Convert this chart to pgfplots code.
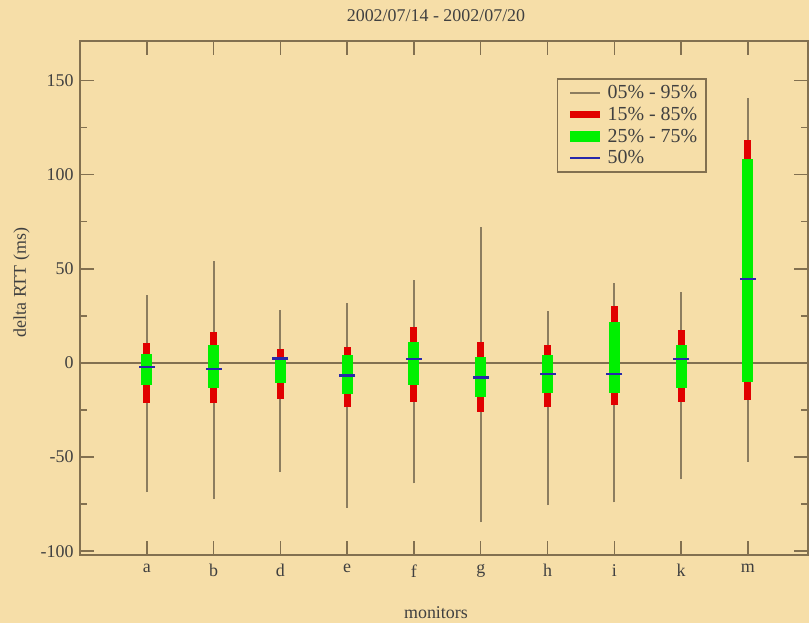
\documentclass[border=0pt]{standalone}
\usepackage{fontspec}
\setmainfont{Liberation Serif}
\usepackage{pgfplots}
\pgfplotsset{compat=1.18}
\usepackage{pgfplotstable}
\definecolor{bg}{RGB}{246,222,168}
\definecolor{axc}{RGB}{130,112,80}
\definecolor{whisk}{RGB}{140,125,95}
\definecolor{rred}{RGB}{225,0,0}
\definecolor{ggreen}{RGB}{0,240,0}
\definecolor{mblue}{RGB}{40,40,170}

\pgfplotstableread{
x  lo5   hi95  lo15  hi85  lo25  hi75  med
1  -68.6 36.0  -21.2 10.8  -11.8 5.0   -2.1
2  -72.0 54.0  -21.3 16.7  -13.3 9.6   -3.2
3  -58.0 28.0  -19.0 7.4   -10.6 3.2   2.3
4  -77.0 32.0  -23.4 8.7   -16.5 4.3   -6.7
5  -64.0 43.8  -20.6 19.3  -11.7 11.3  2.1
6  -84.6 72.0  -25.9 11.3  -17.9 3.0   -7.8
7  -75.5 27.7  -23.6 9.6   -16.1 4.3   -5.9
8  -74.0 42.4  -22.3 30.3  -15.8 22.0  -5.9
9  -61.7 37.8  -20.7 17.6  -13.3 9.6   2.0
10 -52.5 140.8 -19.7 118.6 -9.9  108.3 44.5
}\data

\begin{document}
\begin{tikzpicture}
\fill[bg] (-80bp,-68bp) rectangle (729bp,555bp);
\useasboundingbox (-80bp,-68bp) rectangle (729bp,555bp);
\begin{axis}[
  scale only axis, width=728bp, height=514bp,
  xmin=0, xmax=10.9, ymin=-102, ymax=171,
  xtick={1,...,10},
  xticklabels={a,b,d,e,f,g,h,i,k,m},
  ytick={-100,-50,0,50,100,150},
  minor y tick num=1,
  tick align=inside,
  major tick length=14bp, minor tick length=7bp,
  tick style={axc, line width=1.5bp},
  axis line style={axc, line width=2bp},
  extra y ticks={0}, extra y tick labels={},
  extra y tick style={grid=major, major grid style={axc, line width=1.5bp}, major tick length=0pt},
  /pgf/number format/assume math mode=true,
  tick label style={font=\fontsize{18}{20}\selectfont, text=black!75},
  xticklabel style={yshift=-6bp},
  yticklabel style={xshift=-3bp},
  label style={font=\fontsize{18}{20}\selectfont, text=black!75},
  title style={font=\fontsize{18}{20}\selectfont, text=black!75, at={(axis description cs:0.489,1.0272)}, anchor=base},
  title={2002/07/14 - 2002/07/20},
  xlabel={monitors},
  ylabel={delta RTT (ms)},
  xlabel style={at={(axis description cs:0.489,-0.1226)}, anchor=base},
  ylabel style={at={(axis description cs:-0.0742,0.53)}, anchor=base},
  legend image code/.code={\draw[#1] (0bp,0bp) -- (30bp,0bp);},
  legend style={at={(axis description cs:0.655,0.928)}, anchor=north west, draw=axc, line width=1.5bp, fill=bg,
     font=\fontsize{20}{22}\selectfont, text=black!75, row sep=2.8bp, inner xsep=7bp, inner ysep=5bp},
  legend cell align=left,
]
\addlegendimage{whisk, line width=2bp}
\addlegendentry{05\% - 95\%}
\addlegendimage{rred, line width=7bp}
\addlegendentry{15\% - 85\%}
\addlegendimage{ggreen, line width=11bp}
\addlegendentry{25\% - 75\%}
\addlegendimage{mblue, line width=2bp}
\addlegendentry{50\%}

\addplot[draw=none, mark=none, forget plot,
  error bars/.cd, y dir=plus, y explicit, error mark=none,
  error bar style={draw=whisk, line width=2bp}]
  table[x=x, y=lo5, y error expr=\thisrow{hi95}-\thisrow{lo5}] {\data};
\addplot[draw=none, mark=none, forget plot,
  error bars/.cd, y dir=plus, y explicit, error mark=none,
  error bar style={draw=rred, line width=7bp}]
  table[x=x, y=lo15, y error expr=\thisrow{hi85}-\thisrow{lo15}] {\data};
\addplot[draw=none, mark=none, forget plot,
  error bars/.cd, y dir=plus, y explicit, error mark=none,
  error bar style={draw=ggreen, line width=11bp}]
  table[x=x, y=lo25, y error expr=\thisrow{hi75}-\thisrow{lo25}] {\data};
\addplot[only marks, mark=-, mark size=8bp, forget plot,
  mark options={draw=mblue, line width=2.5bp}]
  table[x=x, y=med] {\data};
\end{axis}
\end{tikzpicture}
\end{document}
